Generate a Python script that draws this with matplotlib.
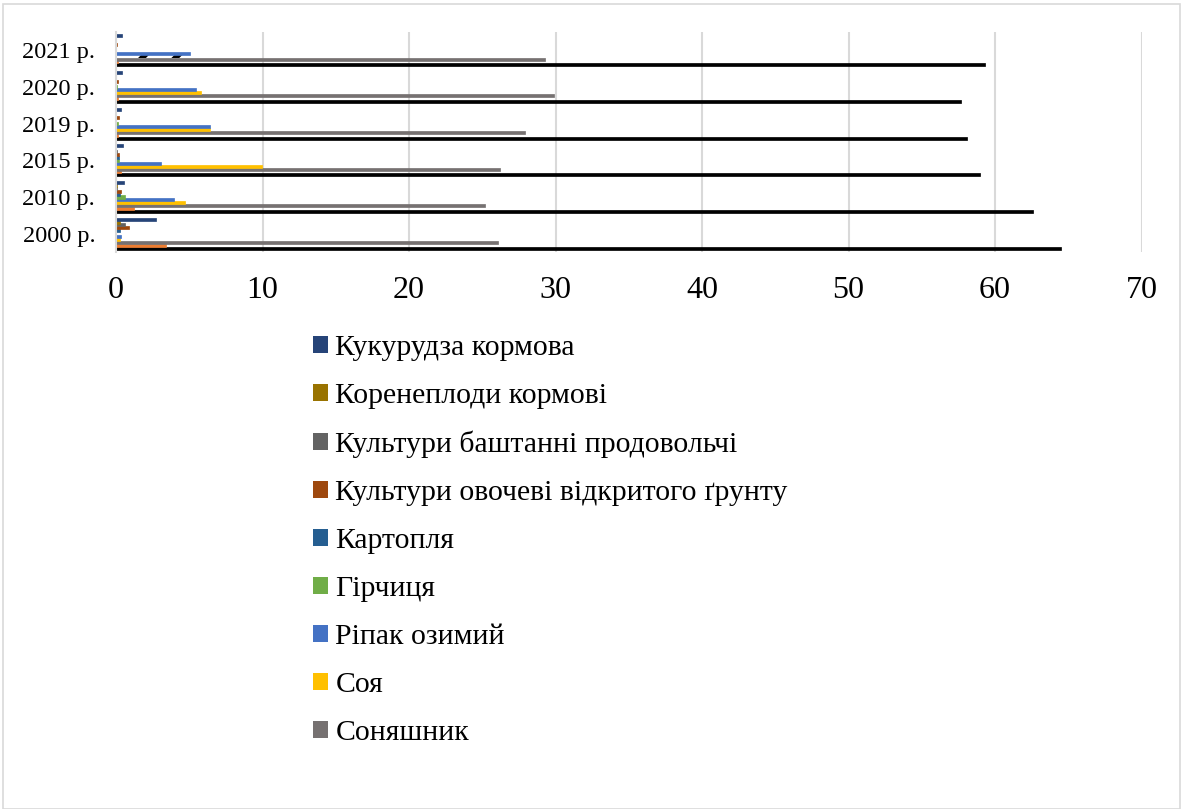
import matplotlib.pyplot as plt
from matplotlib.patches import Patch, Rectangle

plt.rcParams['font.family'] = ['Liberation Serif', 'DejaVu Serif']
plt.rcParams['hatch.linewidth'] = 4.0

years = ["2000 р.", "2010 р.", "2015 р.", "2019 р.", "2020 р.", "2021 р."]

# shares by year, bottom bar of each group first
grain = [64.5, 62.6, 59.0, 58.1, 57.7, 59.35]
beet = [3.43, 1.24, 0.36, 0.15, 0.15, 0.15]
sunflower = [26.1, 25.2, 26.2, 27.9, 29.9, 29.3]
soy = [0.24, 4.74, 9.99, 6.4, 5.78, 5.28]
rapeseed = [0.33, 3.93, 3.07, 6.4, 5.46, 5.05]
mustard = [0.0, 0.63, 0.18, 0.15, 0.05, 0.0]
potato = [0.24, 0.24, 0.18, 0.02, 0.03, 0.03]
vegetables = [0.92, 0.35, 0.18, 0.18, 0.15, 0.1]
melons = [0.63, 0.05, 0.05, 0.03, 0.03, 0.03]
root_crops = [0.24, 0.05, 0.02, 0.02, 0.02, 0.02]
corn_fodder = [2.74, 0.53, 0.45, 0.36, 0.38, 0.38]

series = [grain, beet, sunflower, soy, rapeseed, mustard, potato,
          vegetables, melons, root_crops, corn_fodder]
names = ["Зернові та зернобобові", "Цукрові буряки", "Соняшник", "Соя",
         "Ріпак озимий", "Гірчиця", "Картопля",
         "Культури овочеві відкритого ґрунту",
         "Культури баштанні продовольчі", "Коренеплоди кормові",
         "Кукурудза кормова"]
colors = ["#000000", "#ED7D31", "#767171", "#FFC000", "#4472C4", "#70AD47",
          "#255E91", "#9E480E", "#636363", "#997300", "#264478"]

fig = plt.figure(figsize=(11.83, 8.09), dpi=100)
ax = fig.add_axes([116 / 1183, 1 - 252 / 809, (1141.5 - 116) / 1183, 220 / 809])

n = len(series)
step = 0.079
h = 0.082
pos = list(range(len(years)))
for i, (vals, col) in enumerate(zip(series, colors)):
    ys = [p + (i - (n - 1) / 2) * step for p in pos]
    if i == 3:
        # soybean bar of the last year is drawn with a diagonal pattern
        ax.barh(ys[:-1], vals[:-1], height=h, color=col, edgecolor=col,
                linewidth=0.5)
        ax.barh(ys[-1:], vals[-1:], height=h, facecolor="white",
                edgecolor="black", hatch="/", linewidth=0)
    else:
        ax.barh(ys, vals, height=h, color=col, edgecolor=col, linewidth=0.5)

ax.set_xlim(0, 70)
ax.set_ylim(-0.5, len(years) - 0.5)
ax.set_xticks(range(0, 71, 10))
ax.set_yticks(pos)
ax.set_yticklabels(years, fontsize=17.5)
ax.tick_params(axis='x', labelsize=23, length=0, pad=17)
ax.tick_params(axis='y', length=0, pad=15)
ax.grid(axis='x', color="#D9D9D9", linewidth=1.5)
ax.set_axisbelow(True)
for s in ["top", "right", "bottom"]:
    ax.spines[s].set_visible(False)
ax.spines["left"].set_color("#D9D9D9")
ax.spines["left"].set_linewidth(1.5)

# legend lists the series from the top bar downwards
order = list(range(n - 1, 1, -1))
handles = [Patch(facecolor=colors[k], edgecolor="none") for k in order]
labels = [names[k] for k in order]
fig.legend(handles, labels, loc="upper left",
           bbox_to_anchor=(313 / 1183, 1 - 335 / 809),
           frameon=False, fontsize=21.4, borderpad=0, borderaxespad=0,
           handlelength=0.5, handleheight=0.5, handletextpad=0.25,
           labelspacing=0.74)

fig.patches.append(Rectangle((3 / 1183, 0), 1 - 6 / 1183, 1 - 4 / 809,
                             transform=fig.transFigure, fill=False,
                             edgecolor="#D9D9D9", linewidth=1.2))

fig.savefig("out.png", dpi=100)
